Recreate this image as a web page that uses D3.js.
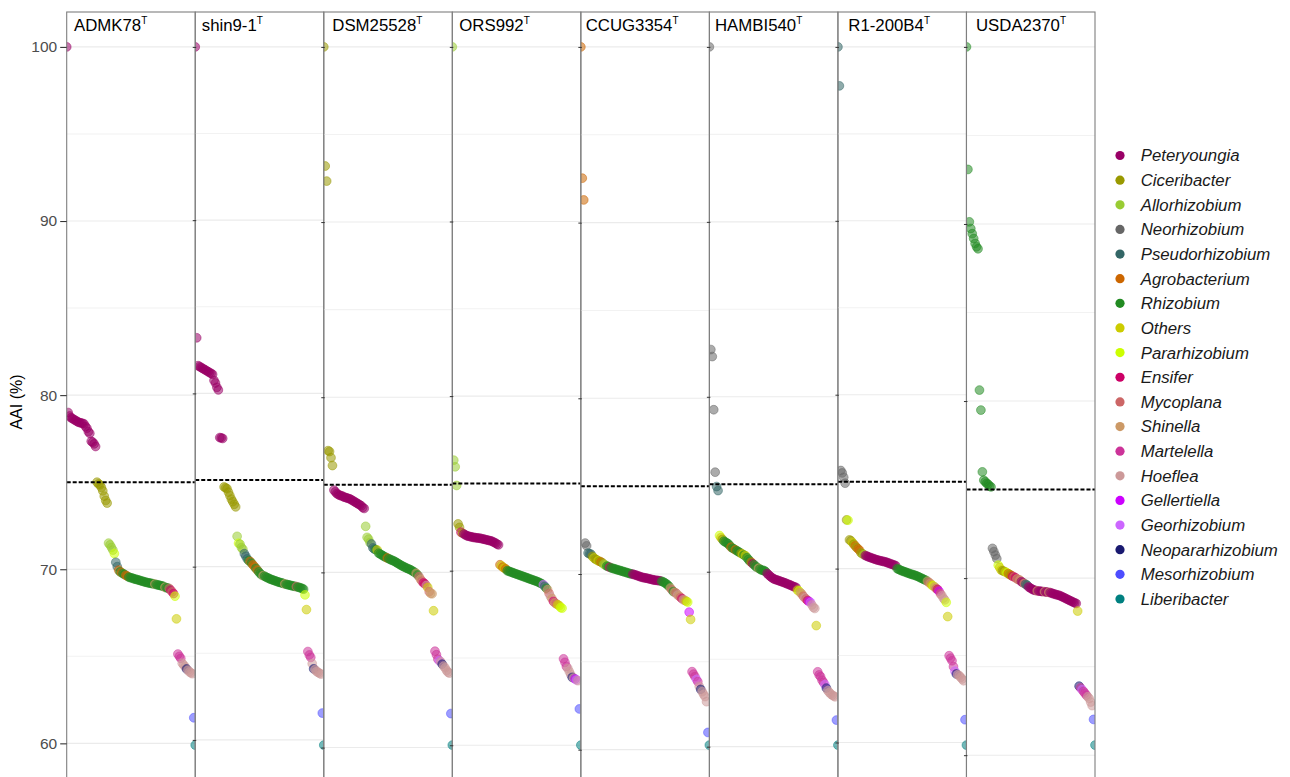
<!DOCTYPE html>
<html>
<head>
<meta charset="utf-8">
<script src="https://cdnjs.cloudflare.com/ajax/libs/d3/7.8.5/d3.min.js"></script>
<style>
  body { margin: 0; background: #fff; }
  svg { display: block; font-family: "Liberation Sans", Arial, Helvetica, sans-serif; }
</style>
</head>
<body>
<svg id="chart" width="1290" height="777"></svg>
<script>
// genera in legend order, and their colours
const genera = ["Peteryoungia", "Ciceribacter", "Allorhizobium", "Neorhizobium", "Pseudorhizobium",
  "Agrobacterium", "Rhizobium", "Others", "Pararhizobium", "Ensifer", "Mycoplana", "Shinella",
  "Martelella", "Hoeflea", "Gellertiella", "Georhizobium", "Neopararhizobium", "Mesorhizobium", "Liberibacter"];
const generaColors = ["#990066", "#999900", "#99cc33", "#666666", "#336666",
  "#cc6600", "#228b22", "#cccc00", "#ccff00", "#cc0066", "#cc6666", "#cc9966",
  "#cc3399", "#cc9999", "#cc00ff", "#cc66ff", "#191970", "#4d4dff", "#008080"];
const codes = {
  Pe: "Peteryoungia", Ci: "Ciceribacter", Al: "Allorhizobium", Ne: "Neorhizobium", Ps: "Pseudorhizobium",
  Ag: "Agrobacterium", Rh: "Rhizobium", Ot: "Others", Pa: "Pararhizobium", En: "Ensifer", My: "Mycoplana",
  Sh: "Shinella", Ma: "Martelella", Ho: "Hoeflea", Ge: "Gellertiella", Gr: "Georhizobium",
  Np: "Neopararhizobium", Me: "Mesorhizobium", Li: "Liberibacter"
};

// type strains (one panel each)
const strains = ["ADMK78", "shin9-1", "DSM25528", "ORS992", "CCUG3354", "HAMBI540", "R1-200B4", "USDA2370"];
const cutoff = 75;
const yTicks = [60, 70, 80, 90, 100];

// AAI values, ranked; a genus code starts a run
const aaiADMK78 = [
  "Pe", 100, 79.0, 78.8, 78.7, 78.65, 78.6, 78.55, 78.5, 78.45, 78.42, 78.4, 78.38, 78.35, 78.2, 78.1, 77.9, 77.8, 77.35, 77.3, 77.2, 77.05,
  "Ci", 75.0, 74.9, 74.85, 74.7, 74.5, 74.2, 73.95, 73.8,
  "Al", 71.5, 71.4, 71.25, 71.1, "Pa", 70.9, "Ps", 70.4, 70.15,
  "Ag", 69.95, "Rh", 69.85, "Ag", 69.8, "Rh", 69.75, 69.7, "Ag", 69.65, 69.6, "Rh", 69.55,
  69.52, 69.5, 69.47, 69.44, 69.42, 69.4, 69.37, 69.35, 69.32, 69.3, 69.27, 69.25, 69.23, 69.21, 69.2, 69.18, 69.16,
  "Sh", 69.15, "Rh", 69.12, 69.1, 69.08, 69.06, 69.04, 69.02, "Sh", 68.96, "Rh", 68.94, 68.92,
  "My", 68.9, "En", 68.8, "My", 68.7, "En", 68.6, "Pa", 68.45, "Ot", 67.15,
  "Ma", 65.13, 65.0, 64.88, "Ho", 64.6, 64.5, 64.4, "Np", 64.27, "Ho", 64.2, 64.1, 64.05, 64.0,
  "Me", 61.47, "Li", 59.9
];
const aaiShin91 = [
  "Pe", 100, 83.21, 81.6, 81.55, 81.5, 81.45, 81.4, 81.35, 81.3, 81.25, 81.2, 81.15, 81.1, 80.75, 80.6, 80.35, 80.2, 77.45, 77.43, 77.4,
  "Ci", 74.6, 74.55, 74.5, 74.3, 74.1, 73.9, 73.75, 73.6, 73.45,
  "Al", 71.75, "Pa", 71.35, "Al", 71.3, 71.1, 71.0, "Ps", 70.75, 70.6, 70.45,
  "Rh", 70.35, "Ag", 70.3, "Rh", 70.2, "Ag", 70.1, 70.0, "Rh", 69.9, "Ag", 69.8, "Rh", 69.7, 69.6, 69.52, "Sh", 69.48,
  "Rh", 69.45, 69.4, 69.36, 69.32, 69.28, 69.25, 69.22, 69.19, 69.16, 69.13, 69.1, 69.08, 69.06, 69.03,
  "Sh", 69.0, "Rh", 68.98, 68.96, 68.94, 68.92, 68.9, 68.88, 68.86, "My", 68.85, "Rh", 68.82, 68.8, 68.77, 68.74, 68.7,
  "Pa", 68.37, "Ot", 67.52, "Ma", 65.1, 64.9, 64.76,
  "Ho", 64.4, "Np", 64.1, "Ho", 64.05, 63.95, 63.9, 63.85, 63.8, "Me", 61.55, "Li", 59.7
];
const aaiDSM25528 = [
  "Ci", 100, 93.2, 92.34, 76.95, 76.9, 76.55, 76.1,
  "Pe", 74.7, 74.6, 74.5, 74.45, 74.4, 74.38, 74.35, 74.3, 74.28, 74.25, 74.22, 74.2, 74.15, 74.1, 74.05, 74.0, 73.95, 73.9, 73.85, 73.8, 73.7, 73.65,
  "Al", 72.63, 72.0, 71.9, 71.7, "Ps", 71.62, 71.4, 71.33, "Rh", 71.3, "Ot", 71.28,
  "Rh", 71.1, 71.05, 71.0, 70.95, 70.9, 70.86, "Ag", 70.82,
  "Rh", 70.78, 70.74, 70.7, 70.67, 70.63, 70.58, 70.53, 70.48, 70.43, 70.38, 70.34, 70.3, 70.26, 70.22, 70.19, 70.15, 70.1, 70.05, 70.0,
  "Sh", 69.95, "Rh", 69.85, "My", 69.75, "Sh", 69.6, "My", 69.5, "En", 69.4, 69.35, "Ho", 69.25, "Ot", 69.14,
  "My", 68.9, "Sh", 68.8, 68.78, "Ot", 67.81, "Ma", 65.5, 65.3, 65.05,
  "Gr", 64.95, "Ho", 64.9, "Np", 64.76, "Ho", 64.65, 64.55, 64.4, 64.3, 64.25, "Me", 61.94, "Li", 60.14
];
const aaiORS992 = [
  "Al", 100, 76.33, 75.95, 74.88, "Ci", 72.68, 72.48, "En", 72.2, "Ci", 72.15,
  "Pe", 72.1, 72.05, 72.0, 71.98, 71.96, 71.94, 71.92, 71.9, 71.89, 71.88, 71.87, 71.86, 71.84, 71.82, 71.8, 71.78, 71.76, 71.74, 71.72, 71.7, 71.66, 71.62, 71.58, 71.52, 71.48,
  "Ag", 70.34, "Ot", 70.28, "Ag", 70.2, "Ot", 70.15, "Ag", 70.1,
  "Rh", 70.0, 69.97, 69.94, 69.91, 69.88, 69.85, 69.82, 69.79, 69.76, 69.73, 69.7, 69.67, 69.64, 69.61, 69.58, 69.55, 69.52, 69.49, 69.46, 69.43, 69.4, 69.37, 69.33, 69.29, 69.25,
  "Gr", 69.2, "Ps", 69.1, "Rh", 69.0, "Sh", 68.91, "My", 68.7, "Ho", 68.52, "Sh", 68.4, "En", 68.24, "Sh", 68.15, "My", 68.1,
  "Ot", 68.05, 68.0, "Pa", 67.89, 67.85,
  "Ma", 64.95, 64.75, 64.51, "Ho", 64.4, 64.22, 64.05, "Np", 63.89, "Ho", 63.85, "Ge", 63.8, "Gr", 63.74, "Ho", 63.7,
  "Me", 62.08, "Li", 60.01
];
const aaiCCUG3354 = [
  "Ag", 100, 92.53, 91.29, "Ne", 71.76, 71.6, "Ps", 71.19, 71.15, 71.13, "Ci", 71.0, "Ot", 70.91, "Ci", 70.85, 70.8, "Ot", 70.75,
  "Ci", 70.72, "Ag", 70.68, "Ci", 70.63, "Al", 70.55, 70.5, "Rh", 70.45, 70.42, "En", 70.38,
  "Rh", 70.35, 70.32, 70.3, 70.27, 70.25, 70.22, 70.2, 70.17, 70.15, 70.12, 70.1, 70.07, 70.05, 70.02, 70.0,
  "Pe", 69.99, 69.96, 69.94, 69.91, 69.88, 69.85, 69.82, 69.8, 69.78, 69.77, 69.75, 69.73, 69.71, 69.69, 69.67, 69.65, 69.64, 69.63, 69.62, 69.61,
  "Rh", 69.58, 69.55, 69.5, 69.45, 69.38, 69.3,
  "Sh", 69.2, "My", 69.1, "Rh", 69.0, "Sh", 68.95, "My", 68.91, "Ho", 68.8, "Sh", 68.75, "My", 68.67, "En", 68.6, "Ho", 68.53,
  "Sh", 68.5, "Ot", 68.45, "Pa", 68.4, "Ge", 67.83, "Ot", 67.41,
  "Ma", 64.44, 64.3, 64.16, "Gr", 64.0, "Ma", 63.87, "Ho", 63.6, "Np", 63.43, "Ho", 63.3, 63.15, 63.02, 62.73,
  "Me", 60.98, "Li", 60.26
];
const aaiHAMBI540 = [
  "Ne", 100, 82.7, 82.3, 79.26, 75.69, "Ps", 74.87, 74.64, "Pa", 72.07, "Ot", 71.95, "Ci", 71.85,
  "Rh", 71.75, 71.7, 71.65, 71.6, 71.5, "Ag", 71.4, "Rh", 71.35, 71.3, "Ag", 71.25, "Rh", 71.2, 71.15, 71.1, "Ci", 71.05,
  "Ot", 71.0, "Rh", 70.95, "Ot", 70.92, "Rh", 70.8, 70.7, 70.6, "Ag", 70.55, "Pe", 70.45, "Rh", 70.4, 70.3, 70.25,
  "Sh", 70.2, "Rh", 70.15, 70.1, 70.08, 70.06, 70.0,
  "Pe", 69.9, 69.82, 69.75, 69.68, 69.62, 69.57, 69.55, 69.52, 69.49, 69.46, 69.43, 69.4, 69.37, 69.34, 69.3, 69.27, 69.24, 69.2, 69.16, 69.13, 69.1,
  "Ot", 68.95, "Pa", 68.9, "Sh", 68.8, 68.73, "My", 68.6, "Ho", 68.5, "My", 68.44, "En", 68.35, "Ge", 68.3, "Gr", 68.25,
  "Ho", 68.1, 67.96, 67.9, "Ot", 66.92,
  "Ma", 64.28, 64.1, 64.0, 63.8, 63.67, "Gr", 63.55, "Np", 63.35, "Ho", 63.2, 63.1, 63.01, 62.95, 62.9, 62.85,
  "Me", 61.52, "Li", 60.09
];
const aaiR1200B4 = [
  "Ps", 100, 97.76, "Ne", 75.64, 75.5, 75.25, 74.91, "Ci", 72.8, "Pa", 72.78, "Ci", 71.65, 71.6, "Ot", 71.5, "Ci", 71.4,
  "Ag", 71.3, "Ci", 71.2, "Ag", 71.13, 71.05, "Ci", 70.9, 70.85, "Al", 70.8,
  "Pe", 70.75, 70.72, 70.68, 70.65, 70.62, 70.59, 70.56, 70.53, 70.5, 70.48, 70.46, 70.44, 70.42, 70.4, 70.38, 70.35, 70.32, 70.29, 70.26, 70.23, 70.2, 70.17,
  "Rh", 70.0, 69.96, 69.92, 69.88, 69.85, 69.82, 69.79, 69.76, 69.73, 69.7, 69.67, 69.65, 69.62, 69.59, 69.56, 69.52, 69.48, 69.44, 69.4, 69.36, 69.32,
  "Sh", 69.28, "My", 69.2, "Sh", 69.15, "Ot", 69.05, "Pa", 69.0, "Sh", 68.95, "My", 68.85, "En", 68.8, "Ge", 68.7, "My", 68.55,
  "Ho", 68.45, 68.3, 68.2, "Pa", 68.06, "Ot", 67.24,
  "Ma", 64.99, 64.85, 64.7, 64.36, "Gr", 64.1, "Np", 63.94, "Ho", 63.9, 63.84, 63.75, 63.65, 63.55,
  "Me", 61.31, "Li", 59.85
];
const aaiUSDA2370 = [
  "Rh", 100, 93.08, 90.12, 89.74, 89.45, 89.18, 88.9, 88.71, 88.6, 80.62, 79.49, 76.0, 75.53, 75.44, 75.35, 75.3, 75.2, 75.15,
  "Ne", 71.68, 71.5, 71.3, 71.1, "Pa", 70.73, "Ot", 70.6, 70.45, "Ci", 70.42, 70.38, "Ot", 70.35, "Pa", 70.3, "Ag", 70.25,
  "Ci", 70.2, "Ag", 70.15, "En", 70.1, "My", 70.07, "En", 70.02, "Sh", 69.95, "My", 69.92, "Sh", 69.89, "Pe", 69.8, 69.75,
  "Sh", 69.7, "Ps", 69.65, 69.6,
  "Pe", 69.5, 69.45, 69.4, 69.35, 69.32, 69.3, "Sh", 69.28, "Pe", 69.27, 69.26, 69.25, 69.24, "Sh", 69.23, "Pe", 69.22, 69.21,
  "Sh", 69.2, "Pe", 69.18, 69.15, 69.12, 69.1, 69.07, 69.05, 69.03, 69.0, 68.96, 68.92, 68.88, 68.84, 68.8, 68.76, 68.72, 68.68, 68.64, 68.6, 68.57,
  "Ot", 68.14, "Np", 63.9, "Ma", 63.8, "Gr", 63.7, "Ma", 63.6, 63.5, 63.39, "Ho", 63.3, 63.2, 63.0, 62.8,
  "Me", 62.02, "Li", 60.57
];
const panelValues = [aaiADMK78, aaiShin91, aaiDSM25528, aaiORS992, aaiCCUG3354, aaiHAMBI540, aaiR1200B4, aaiUSDA2370];

// layout
const width = 1290, height = 777;
const plotTop = 12, plotBottom = 780, plotLeft = 66.7, plotRight = 1095;
const stripDx = [7.3, 6.5, 8.5, 7, 4.8, 5.6, 10.4, 9.5];

const svg = d3.select("#chart");
svg.append("rect").attr("width", width).attr("height", height).attr("fill", "#fff");

const color = d3.scaleOrdinal().domain(genera).range(generaColors);
const panelX = d3.scaleBand().domain(strains).range([plotLeft, plotRight]).paddingInner(0);

function toPoints(list) {
  let genus = null;
  const out = [];
  list.forEach(v => {
    if (typeof v === "string") genus = codes[v];
    else out.push({ genus: genus, aai: v });
  });
  return out;
}

strains.forEach((strain, i) => {
  const pts = toPoints(panelValues[i]);
  const lo = d3.min(pts, d => d.aai), hi = d3.max(pts, d => d.aai);
  const pad = (hi - lo) * 0.05;
  const y = d3.scaleLinear().domain([lo - pad, hi + pad]).range([plotBottom, plotTop]);
  const x0 = panelX(strain), bw = panelX.bandwidth();
  const x = d3.scaleLinear().domain([0, pts.length - 1]).range([x0, x0 + bw]);

  const g = svg.append("g").attr("class", "panel");
  const clipId = "clip" + i;
  g.append("clipPath").attr("id", clipId)
    .append("rect").attr("x", x0).attr("y", plotTop).attr("width", bw).attr("height", plotBottom - plotTop);

  const grid = d3.range(60, 101, 5).filter(v => v >= y.domain()[0] && v <= y.domain()[1]);
  g.append("g").selectAll("line").data(grid).join("line")
    .attr("x1", x0).attr("x2", x0 + bw)
    .attr("y1", d => y(d)).attr("y2", d => y(d))
    .attr("stroke", d => d % 10 === 0 ? "#ebebeb" : "#f2f2f2")
    .attr("stroke-width", 1.1);

  g.append("g").attr("clip-path", `url(#${clipId})`)
    .selectAll("circle").data(pts).join("circle")
    .attr("cx", (d, k) => x(k))
    .attr("cy", d => y(d.aai))
    .attr("r", 4.4)
    .attr("fill", d => color(d.genus))
    .attr("fill-opacity", 0.55)
    .attr("stroke", d => color(d.genus))
    .attr("stroke-opacity", 0.55)
    .attr("stroke-width", 0.9);

  g.append("line")
    .attr("x1", x0).attr("x2", x0 + bw)
    .attr("y1", y(cutoff)).attr("y2", y(cutoff))
    .attr("stroke", "#000").attr("stroke-width", 2)
    .attr("stroke-dasharray", "4,2");

  g.append("rect")
    .attr("x", x0).attr("y", plotTop).attr("width", bw).attr("height", plotBottom - plotTop)
    .attr("fill", "none").attr("stroke", "#7f7f7f").attr("stroke-width", 1.1);

  const label = g.append("text")
    .attr("x", x0 + stripDx[i]).attr("y", 30.7)
    .attr("font-size", "16.8px").attr("fill", "#000")
    .text(strain);
  label.append("tspan").attr("dy", -6.9).attr("font-size", "10px").text("T");

  if (i === 0) {
    const axis = g.append("g").attr("transform", `translate(${x0},0)`)
      .call(d3.axisLeft(y).tickValues(yTicks).tickSize(6.5).tickPadding(3));
    axis.select(".domain").remove();
    axis.selectAll(".tick line").attr("stroke", "#333").attr("stroke-width", 1.1);
    axis.selectAll(".tick text").attr("fill", "#4d4d4d").attr("font-size", "15.5px")
      .attr("font-family", "'Liberation Sans', Arial, sans-serif");
  } else {
    const ticks = g.append("g").attr("transform", `translate(${x0 + 1},0)`)
      .call(d3.axisLeft(y).tickValues(yTicks).tickSize(3.5).tickFormat(""));
    ticks.select(".domain").remove();
    ticks.selectAll(".tick line").attr("stroke", "#333").attr("stroke-width", 1);
  }
});

svg.append("text")
  .attr("transform", `translate(22,402) rotate(-90)`)
  .attr("text-anchor", "middle")
  .attr("font-size", "16px").attr("fill", "#000")
  .text("AAI (%)");

// legend
const legendY = d3.scalePoint().domain(genera).range([155.5, 599]);
const legend = svg.append("g").attr("class", "legend");
const entry = legend.selectAll("g").data(genera).join("g")
  .attr("transform", d => `translate(1120,${legendY(d)})`);
entry.append("circle").attr("r", 4.6).attr("fill", d => color(d));
entry.append("text")
  .attr("x", 20.7).attr("dy", "0.35em")
  .attr("font-size", "16.8px").attr("font-style", "italic").attr("fill", "#1a1a1a")
  .text(d => d);
</script>
</body>
</html>
